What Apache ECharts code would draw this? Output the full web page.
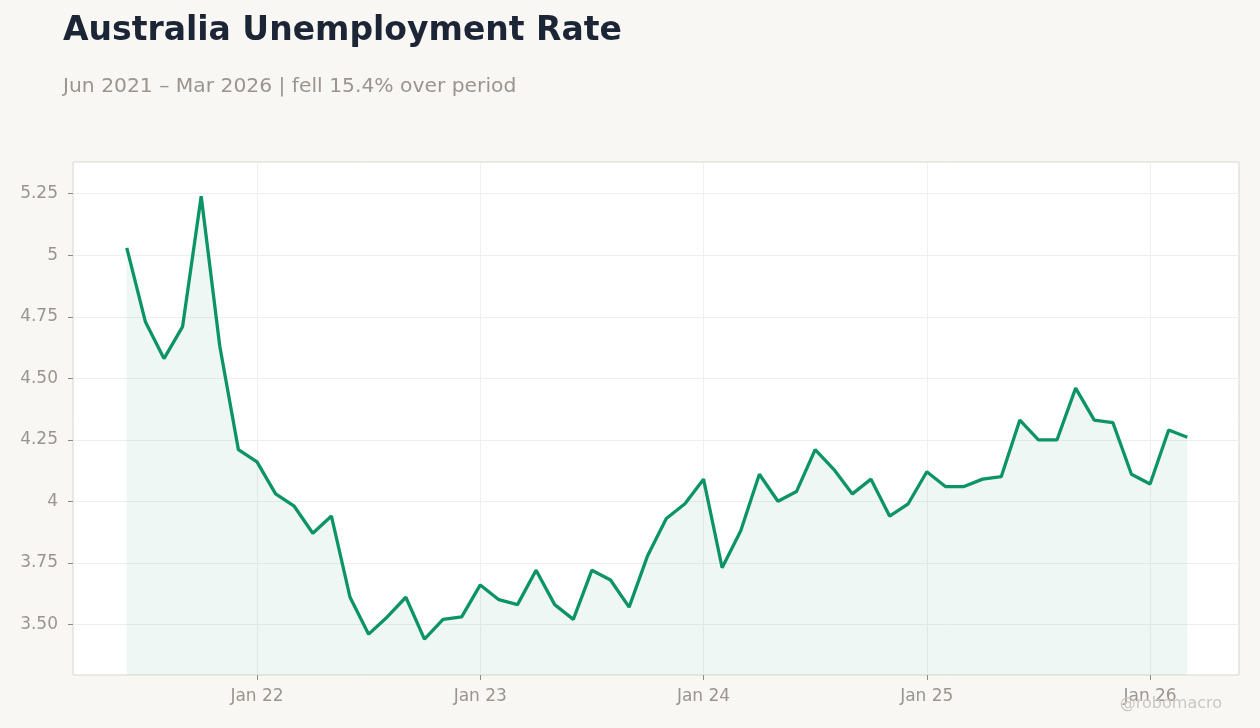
<!DOCTYPE html>
<html>
<head>
<meta charset="utf-8">
<script src="https://cdn.jsdelivr.net/npm/echarts@6/dist/echarts.min.js"></script>
<style>
  html, body { margin: 0; padding: 0; background: #f8f7f4; }
  #chart { width: 1260px; height: 728px; }
</style>
</head>
<body>
<div id="chart"></div>
<script>
// monthly observations, Jun 2021 - Mar 2026
var months = [
  '2021-06','2021-07','2021-08','2021-09','2021-10','2021-11','2021-12',
  '2022-01','2022-02','2022-03','2022-04','2022-05','2022-06','2022-07','2022-08','2022-09','2022-10','2022-11','2022-12',
  '2023-01','2023-02','2023-03','2023-04','2023-05','2023-06','2023-07','2023-08','2023-09','2023-10','2023-11','2023-12',
  '2024-01','2024-02','2024-03','2024-04','2024-05','2024-06','2024-07','2024-08','2024-09','2024-10','2024-11','2024-12',
  '2025-01','2025-02','2025-03','2025-04','2025-05','2025-06','2025-07','2025-08','2025-09','2025-10','2025-11','2025-12',
  '2026-01','2026-02','2026-03'
];
var rates = [
  5.03, 4.73, 4.58, 4.71, 5.24, 4.63, 4.21,
  4.16, 4.03, 3.98, 3.87, 3.94, 3.61, 3.46, 3.53, 3.61, 3.44, 3.52, 3.53,
  3.66, 3.60, 3.58, 3.72, 3.58, 3.52, 3.72, 3.68, 3.57, 3.78, 3.93, 3.99,
  4.09, 3.73, 3.88, 4.11, 4.00, 4.04, 4.21, 4.13, 4.03, 4.09, 3.94, 3.99,
  4.12, 4.06, 4.06, 4.09, 4.10, 4.33, 4.25, 4.25, 4.46, 4.33, 4.32, 4.11,
  4.07, 4.29, 4.26
];
// axis ticks
var xTickMonths = ['2022-01','2023-01','2024-01','2025-01','2026-01'];
var xTickLabels = ['Jan 22','Jan 23','Jan 24','Jan 25','Jan 26'];
var yTickValues = [3.5, 3.75, 4, 4.25, 4.5, 4.75, 5, 5.25];
var yTickLabels = ['3.50','3.75','4','4.25','4.50','4.75','5','5.25'];

var titleText = 'Australia Unemployment Rate';
var subText = 'Jun 2021 \u2013 Mar 2026 | fell 15.4% over period';

// month string -> months since Jan 2022
function monthIndex(s){
    var p = s.split('-');
    return (parseInt(p[0], 10) - 2022) * 12 + (parseInt(p[1], 10) - 1);
}

var xTickValues = xTickMonths.map(monthIndex);
var seriesData = months.map(function(m, i){ return [monthIndex(m), rates[i]]; });

function labelFor(values, labels, v){
    for (var i = 0; i < values.length; i++) {
        if (Math.abs(values[i] - v) < 1e-6) return labels[i];
    }
    return '';
}

var FONT = 'DejaVu Sans';
var GREY = '#9a958f';

var option = {
    backgroundColor: '#f8f7f4',
    animation: false,
    textStyle: { fontFamily: FONT },
    title: [{
        text: titleText,
        left: 58,
        top: 10,
        textStyle: { fontFamily: FONT, fontSize: 33, fontWeight: 'bold', color: '#1b2535' }
    }, {
        text: subText,
        left: 58,
        top: 72,
        textStyle: { fontFamily: FONT, fontSize: 20.3, fontWeight: 'normal', color: GREY }
    }],
    grid: {
        left: 73, right: 21, top: 162, bottom: 53,
        show: true,
        backgroundColor: '#ffffff',
        borderColor: '#dad6d0',
        borderWidth: 1
    },
    xAxis: {
        type: 'value',
        min: -9.89,
        max: 52.78,
        minInterval: 12,
        maxInterval: 12,
        axisLine: { show: false, onZero: false },
        axisTick: { show: true, length: 5, lineStyle: { color: '#8f8a85' }, customValues: xTickValues },
        axisLabel: {
            customValues: xTickValues,
            margin: 13,
            color: GREY,
            fontSize: 17,
            fontFamily: FONT,
            formatter: function(v){ return labelFor(xTickValues, xTickLabels, v); }
        },
        splitLine: { show: true, lineStyle: { color: '#f0efed', width: 1 } }
    },
    yAxis: {
        type: 'value',
        min: 3.294,
        max: 5.379,
        minInterval: 0.25,
        maxInterval: 0.25,
        axisLine: { show: false, onZero: false },
        axisTick: { show: true, length: 5, lineStyle: { color: '#8f8a85' }, customValues: yTickValues },
        axisLabel: {
            customValues: yTickValues,
            margin: 15,
            color: GREY,
            fontSize: 17,
            fontFamily: FONT,
            formatter: function(v){ return labelFor(yTickValues, yTickLabels, v); }
        },
        splitLine: { show: true, lineStyle: { color: '#f0efed', width: 1 } }
    },
    graphic: [{
        type: 'text',
        right: 38,
        top: 696,
        style: { text: '@robomacro', fill: '#cbc7c2', font: '16px "DejaVu Sans"' },
        z: 100
    }],
    series: [{
        name: 'Unemployment Rate',
        type: 'line',
        data: seriesData,
        showSymbol: false,
        symbol: 'none',
        lineStyle: { color: '#0c9467', width: 3.3 },
        itemStyle: { color: '#0c9467' },
        areaStyle: { color: 'rgba(12,148,103,0.1)' }
    }]
};

echarts.init(document.getElementById('chart')).setOption(option);
</script>
</body>
</html>
